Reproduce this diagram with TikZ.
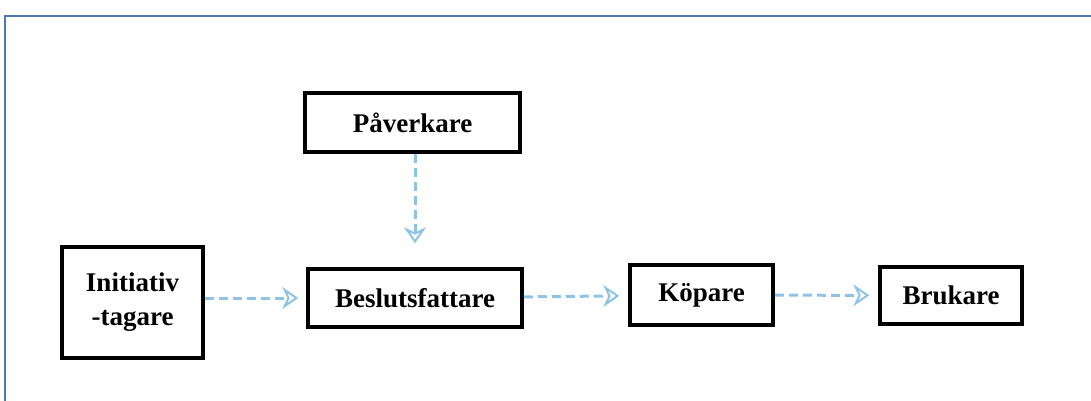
\documentclass[tikz,border=0pt]{standalone}
\usepackage{fontspec}
\setmainfont{Liberation Serif}
\usetikzlibrary{arrows.meta}
\definecolor{framecol}{RGB}{80,120,175}
\definecolor{flowcol}{RGB}{140,195,230}

\begin{document}
\begin{tikzpicture}[x=1pt,y=-1pt,
	box/.style={draw,line width=3.5pt,fill=white,align=center,inner sep=0pt,font=\fontsize{27}{34}\selectfont\bfseries},
	flow/.style={draw=flowcol,line width=3pt,dashed,dash pattern=on 9pt off 5pt,-{Stealth[open,length=16pt,width=22pt,line width=2pt]}}]
	\useasboundingbox (0,0) rectangle (1091,400);
	\draw[framecol,line width=2pt] (5,16) rectangle (1110,420);
	\node[box,minimum width=141pt,minimum height=111pt] (init) at (132.5,302.5) {Initiativ\\-tagare};
	\node[box,minimum width=214pt,minimum height=58pt] (beslut) at (415,298) {Beslutsfattare};
	\node[box,minimum width=143pt,minimum height=60pt] (kopare) at (701.5,295) {Köpare};
	\node[box,minimum width=142pt,minimum height=57pt] (brukare) at (951,295.5) {Brukare};
	\node[box,minimum width=215pt,minimum height=59pt] (paverk) at (412.5,122.5) {Påverkare};
	% pilar
	\draw[flow,shorten >=8pt] (init.east |- beslut) -- (beslut);
	\draw[flow,shorten >=9pt] (beslut) -- (kopare);
	\draw[flow,shorten >=9pt] (kopare) -- (brukare);
	\draw[flow,shorten >=24pt] (paverk.south -| beslut) -- (beslut);
\end{tikzpicture}
\end{document}
